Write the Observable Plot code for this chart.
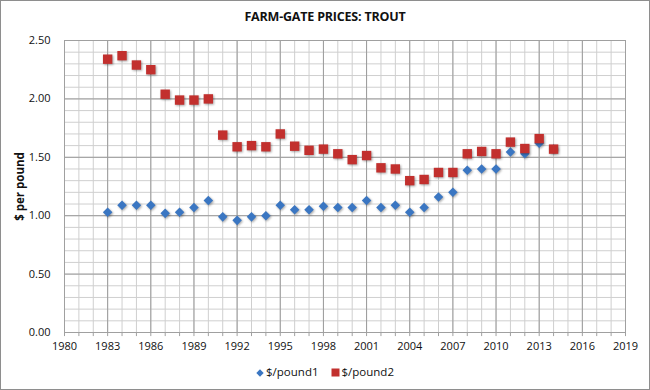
<!DOCTYPE html>
<html>
<head>
<meta charset="utf-8">
<script src="https://cdn.jsdelivr.net/npm/d3@7"></script>
<script src="https://cdn.jsdelivr.net/npm/@observablehq/plot@0.6"></script>
<style>
  body { margin: 0; background: #fff; font-family: "Open Sans", "Liberation Sans", sans-serif; }
  #wrap { position: relative; width: 650px; height: 390px; overflow: hidden; }
  #border { position: absolute; left: 0; top: 0; width: 650px; height: 390px; box-sizing: border-box; border: 1px solid #8e8e8e; pointer-events: none; }
  #title { position: absolute; left: 0; top: 8px; width: 650px; text-align: center; font-weight: bold; font-size: 12.5px; color: #111; letter-spacing: -0.2px; }
  #chart { position: absolute; left: 0; top: 30px; }
  #legend { position: absolute; left: 0; top: 364px; width: 650px; text-align: center; font-size: 11.5px; color: #111; }
  #legend span.item { margin: 0 6px; }
  #legend svg { vertical-align: middle; margin-right: 2px; }
</style>
</head>
<body>
<div id="wrap">
  <div id="title">FARM-GATE PRICES: TROUT</div>
  <div id="chart"></div>
  <div id="legend"></div>
  <div id="border"></div>
</div>
<script>
const years = [1983,1984,1985,1986,1987,1988,1989,1990,1991,1992,1993,1994,1995,1996,1997,1998,1999,2000,2001,2002,2003,2004,2005,2006,2007,2008,2009,2010,2011,2012,2013,2014];
const pound1 = [1.03,1.09,1.09,1.09,1.02,1.03,1.07,1.13,0.99,0.96,0.99,1.00,1.09,1.05,1.05,1.08,1.07,1.07,1.13,1.07,1.09,1.03,1.07,1.16,1.20,1.39,1.40,1.40,1.545,1.53,1.62,1.57];
const pound2 = [2.34,2.37,2.29,2.25,2.04,1.99,1.99,2.00,1.69,1.59,1.60,1.59,1.70,1.595,1.56,1.57,1.53,1.48,1.515,1.41,1.40,1.30,1.31,1.37,1.37,1.53,1.55,1.53,1.63,1.575,1.66,1.57];
const seriesNames = ["$/pound1", "$/pound2"];
const seriesColors = ["#3a76c2", "#c2302e"];
const xTicks = [1980,1983,1986,1989,1992,1995,1998,2001,2004,2007,2010,2013,2016,2019];
const yTicks = [0, 0.5, 1.0, 1.5, 2.0, 2.5];
const yLabel = "$ per pound";

const d1 = years.map((y, i) => ({year: y, value: pound1[i]}));
const d2 = years.map((y, i) => ({year: y, value: pound2[i]}));
const minorX = d3.range(xTicks[0], xTicks[xTicks.length - 1] + 1, 1);
const minorY = d3.range(0, 2.5001, 0.1).map(v => +v.toFixed(2));

const W = 650, ML = 64, MR = 25;
const chart = Plot.plot({
  width: W,
  height: 330,
  marginLeft: ML,
  marginRight: MR,
  marginTop: 10,
  marginBottom: 28,
  style: {fontFamily: "'Open Sans', 'Liberation Sans', sans-serif", fontSize: "11px", color: "#111", background: "transparent", overflow: "visible"},
  x: {type: "linear", domain: [1980, 2019], ticks: xTicks, tickFormat: d => String(d), tickSize: 0, tickPadding: 10, label: null},
  y: {type: "linear", domain: [0, 2.5], ticks: yTicks, tickFormat: d3.format(".2f"), tickSize: 0, tickPadding: 14, label: null},
  marks: [
    Plot.ruleX(minorX, {x: d => d, stroke: "#cfcfcf", strokeWidth: 1, strokeOpacity: 1}),
    Plot.ruleY(minorY, {y: d => d, stroke: "#cfcfcf", strokeWidth: 1, strokeOpacity: 1}),
    Plot.ruleX(xTicks, {x: d => d, stroke: "#9c9c9c", strokeWidth: 1, strokeOpacity: 1}),
    Plot.ruleY(yTicks, {y: d => d, stroke: "#9c9c9c", strokeWidth: 1, strokeOpacity: 1}),
    Plot.ruleX(minorX, {x: d => d, y1: 0, y2: -0.035, stroke: "#a0a0a0", strokeOpacity: 1}),
    Plot.frame({stroke: "#a0a0a0", strokeOpacity: 1}),
    Plot.dot(d1, {x: "year", y: "value", symbol: "square", r: 3.8, rotate: 45, fill: seriesColors[0], stroke: "none"}),
    Plot.dot(d2, {x: "year", y: "value", symbol: "square", r: 5.3, fill: seriesColors[1], stroke: "none"}),
    Plot.text([yLabel], {frameAnchor: "middle", textAnchor: "middle", dx: 20 - (ML + (W - ML - MR) / 2), rotate: -90, fontWeight: "bold", fontSize: 11.5, fill: "#111"})
  ]
});
chart.querySelectorAll("g[aria-label='dot']").forEach(g => {
  g.style.filter = "drop-shadow(1px 1px 1px rgba(0,0,0,0.35))";
});
document.getElementById("chart").appendChild(chart);

const legend = document.getElementById("legend");
seriesNames.forEach((name, i) => {
  const item = document.createElement("span");
  item.className = "item";
  const shape = i === 0
    ? `<svg width="8" height="8" viewBox="-4 -4 8 8"><rect x="-2.6" y="-2.6" width="5.2" height="5.2" transform="rotate(45)" fill="${seriesColors[i]}"/></svg>`
    : `<svg width="9" height="9" viewBox="0 0 9 9"><rect x="0.5" y="0.5" width="8" height="8" fill="${seriesColors[i]}"/></svg>`;
  item.innerHTML = shape + name;
  legend.appendChild(item);
});
</script>
</body>
</html>
